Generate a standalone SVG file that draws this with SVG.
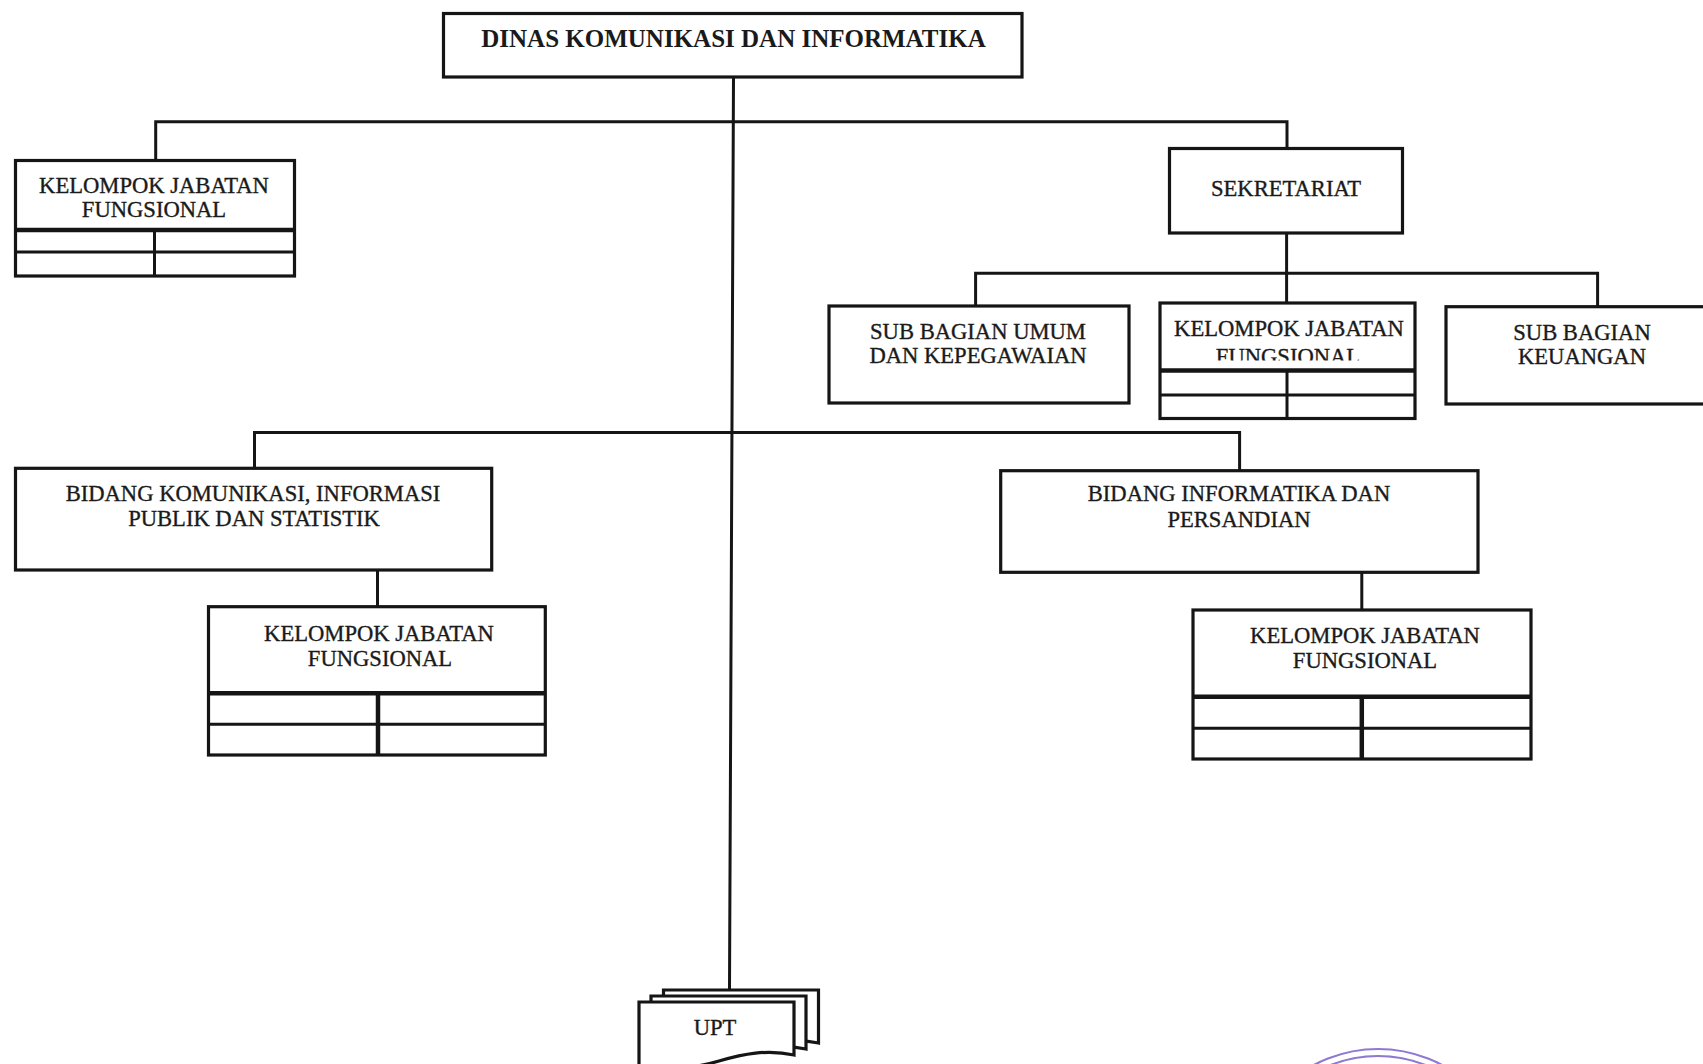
<svg xmlns="http://www.w3.org/2000/svg" width="1703" height="1064" viewBox="0 0 1703 1064">
  <style>
    .box { fill: #fff; stroke: #151515; stroke-width: 3.2; }
    .wire { fill: none; stroke: #151515; stroke-width: 3; stroke-linecap: square; }
    .rule { stroke: #151515; stroke-width: 3; }
    .rule-thick { stroke: #151515; stroke-width: 4.5; }
    .lbl { font-family: "Liberation Serif", "Times New Roman", serif; font-size: 22.6px; fill: #1a1a1a; stroke: #1a1a1a; stroke-width: 0.35; text-anchor: middle; }
    .title { font-family: "Liberation Serif", "Times New Roman", serif; font-size: 25px; font-weight: bold; fill: #1a1a1a; text-anchor: middle; }
    .stamp { fill: none; stroke: #7d62c9; stroke-width: 2.2; opacity: 0.85; }
  </style>

  <rect width="1703" height="1064" fill="#fff"/>

  <!-- connectors -->
  <g id="connectors">
    <line class="wire" x1="733.5" y1="77" x2="729.5" y2="990"/>
    <polyline class="wire" points="155.7,160 155.7,121.7 1287,121.7 1287,148"/>
    <line class="wire" x1="1286.6" y1="233" x2="1286.6" y2="273.3"/>
    <polyline class="wire" points="975.6,306 975.6,273.3 1597.6,273.3 1597.6,306.7"/>
    <line class="wire" x1="1286.6" y1="273.3" x2="1286.6" y2="303"/>
    <polyline class="wire" points="254.5,468 254.5,432.5 1239.6,432.5 1239.6,470.7"/>
    <line class="wire" x1="377.5" y1="570" x2="377.5" y2="606.7"/>
    <line class="wire" x1="1361.8" y1="572.3" x2="1361.8" y2="610"/>
  </g>

  <!-- head office -->
  <g id="dinas">
    <rect class="box" x="443.5" y="13.5" width="578.5" height="63.5"/>
    <text class="title" x="733.5" y="46.5">DINAS KOMUNIKASI DAN INFORMATIKA</text>
  </g>

  <!-- functional group, top left -->
  <g id="kjf-dinas">
    <rect class="box" x="15.5" y="160.5" width="279" height="115.5"/>
    <line class="rule-thick" x1="15.5" y1="230" x2="294.5" y2="230"/>
    <line class="rule" x1="15.5" y1="252" x2="294.5" y2="252"/>
    <line class="rule" x1="154.5" y1="230" x2="154.5" y2="276"/>
    <text class="lbl" x="154" y="193">KELOMPOK JABATAN</text>
    <text class="lbl" x="154" y="216.5">FUNGSIONAL</text>
  </g>

  <!-- secretariat -->
  <g id="sekretariat">
    <rect class="box" x="1169.5" y="148.5" width="233" height="84.5"/>
    <text class="lbl" x="1286" y="196">SEKRETARIAT</text>
  </g>

  <g id="subbag-umum">
    <rect class="box" x="829" y="306" width="300" height="97"/>
    <text class="lbl" x="978" y="339">SUB BAGIAN UMUM</text>
    <text class="lbl" x="978" y="363">DAN KEPEGAWAIAN</text>
  </g>

  <!-- functional group under the secretariat; the grid overlaps the second line -->
  <g id="kjf-sekretariat">
    <rect class="box" x="1160" y="303" width="255" height="115.5"/>
    <text class="lbl" x="1289" y="335.5">KELOMPOK JABATAN</text>
    <text class="lbl" x="1288" y="363.5">FUNGSIONAL</text>
    <rect x="1162" y="360.5" width="251" height="9" fill="#fff"/>
    <line class="rule-thick" x1="1160" y1="370.5" x2="1415" y2="370.5"/>
    <line class="rule" x1="1160" y1="395" x2="1415" y2="395"/>
    <line class="rule" x1="1287" y1="370.5" x2="1287" y2="418.5"/>
  </g>

  <g id="subbag-keuangan">
    <rect class="box" x="1446" y="306.7" width="272" height="97.3"/>
    <text class="lbl" x="1582" y="340">SUB BAGIAN</text>
    <text class="lbl" x="1582" y="364">KEUANGAN</text>
  </g>

  <g id="bidang-kips">
    <rect class="box" x="15.5" y="468.3" width="476.2" height="101.7"/>
    <text class="lbl" x="253" y="501">BIDANG KOMUNIKASI, INFORMASI</text>
    <text class="lbl" x="254" y="526">PUBLIK DAN STATISTIK</text>
  </g>

  <g id="kjf-kips">
    <rect class="box" x="208.5" y="606.7" width="336.8" height="148.3"/>
    <line class="rule-thick" x1="208.5" y1="693.3" x2="545.3" y2="693.3"/>
    <line class="rule" x1="208.5" y1="724.3" x2="545.3" y2="724.3"/>
    <line class="rule-thick" x1="378" y1="693.3" x2="378" y2="755"/>
    <text class="lbl" x="379" y="641">KELOMPOK JABATAN</text>
    <text class="lbl" x="380" y="665.5">FUNGSIONAL</text>
  </g>

  <g id="bidang-ip">
    <rect class="box" x="1000.7" y="470.7" width="477.3" height="101.6"/>
    <text class="lbl" x="1239" y="501">BIDANG INFORMATIKA DAN</text>
    <text class="lbl" x="1239" y="527">PERSANDIAN</text>
  </g>

  <g id="kjf-ip">
    <rect class="box" x="1193" y="610" width="338" height="149"/>
    <line class="rule-thick" x1="1193" y1="696.7" x2="1531" y2="696.7"/>
    <line class="rule" x1="1193" y1="728.3" x2="1531" y2="728.3"/>
    <line class="rule-thick" x1="1361.8" y1="696.7" x2="1361.8" y2="759"/>
    <text class="lbl" x="1365" y="643">KELOMPOK JABATAN</text>
    <text class="lbl" x="1365" y="668">FUNGSIONAL</text>
  </g>

  <!-- technical units: three stacked document shapes -->
  <defs>
    <path id="doc" d="M0,0 H155 V53 C128,47 104,52 80,59 C56,66 24,70 0,64 Z"/>
  </defs>
  <g id="upt">
    <use href="#doc" x="663.5" y="990" class="box" stroke-width="3"/>
    <use href="#doc" x="651" y="996" class="box" stroke-width="3"/>
    <use href="#doc" x="639" y="1002" class="box" stroke-width="3"/>
    <text class="lbl" x="715" y="1035">UPT</text>
  </g>

  <!-- edge of the official seal -->
  <g id="seal">
    <circle class="stamp" cx="1378" cy="1185" r="136"/>
    <circle class="stamp" cx="1378" cy="1185" r="129"/>
  </g>
</svg>
